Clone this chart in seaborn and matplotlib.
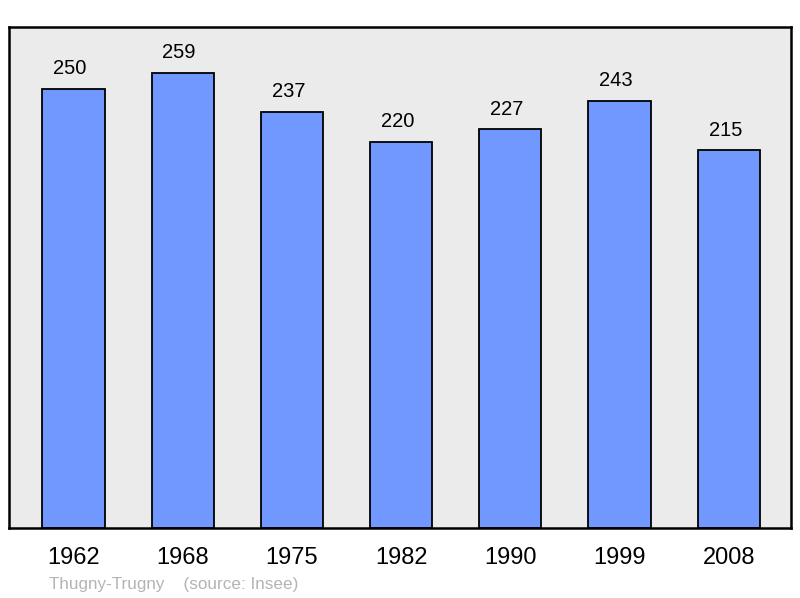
import matplotlib
matplotlib.use("Agg")
import matplotlib.pyplot as plt
import seaborn as sns
import pandas as pd

years = ["1962", "1968", "1975", "1982", "1990", "1999", "2008"]
population = [250, 259, 237, 220, 227, 243, 215]
commune = "Thugny-Trugny"
source = "(source: Insee)"

sns.set_style("white")
plt.rcParams['font.family'] = ['Liberation Sans', 'DejaVu Sans']

df = pd.DataFrame({"year": years, "pop": population})

fig = plt.figure(figsize=(8.0, 5.98), dpi=100)
ax = fig.add_axes([9/800, 1 - 528/598, (791-9)/800, (528-27)/598])
ax.set_facecolor("#ebebeb")

sns.barplot(data=df, x="year", y="pop", order=years, color="#7098ff",
            saturation=1, width=0.57, edgecolor="black", linewidth=1.3, ax=ax)

for i, v in enumerate(population):
    ax.annotate(str(v), (i, v), xytext=(-2.5, 7.8), textcoords="offset points",
                ha="center", va="bottom", fontsize=14.5, color="black")

ax.set_xlim(-0.59, 6.57)
ax.set_ylim(0, 285.3)
ax.set_yticks([])
ax.set_xlabel("")
ax.set_ylabel("")
ax.tick_params(axis="x", length=0, labelsize=17, pad=13.5, colors="black")
for s in ax.spines.values():
    s.set_visible(True)
    s.set_color("black")
    s.set_linewidth(1.8)

fig.text(49/800, 1 - 584/598, commune + "    " + source, fontsize=12.3,
         color="#b4b4b4", ha="left", va="center")

fig.savefig("out.png", dpi=100)
